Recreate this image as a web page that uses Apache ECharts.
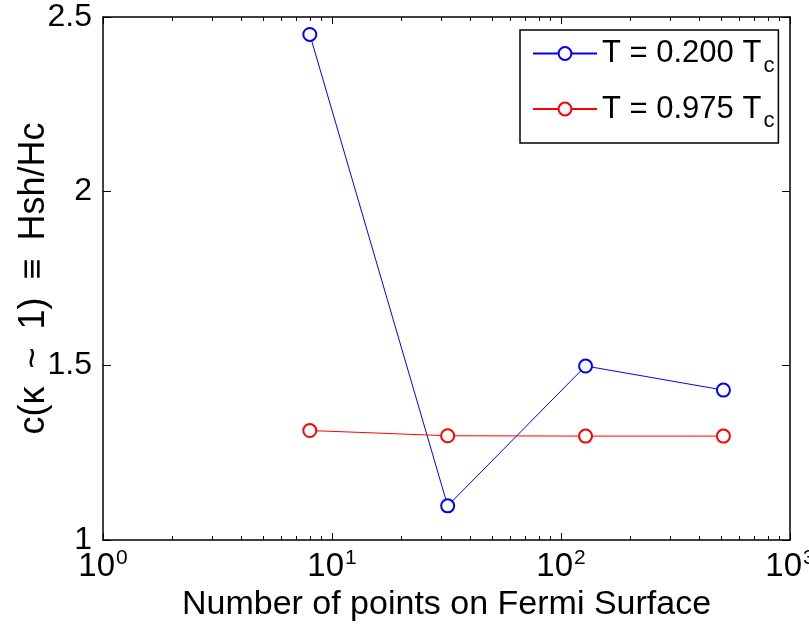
<!DOCTYPE html>
<html style="height: 100%">
	<head>
		<meta charset="utf-8">
	</head>
	<body style="height: 100%; margin: 0; background: #fff">
		<div id="container" style="width: 809px; height: 626px"></div>
		<script type="text/javascript" src="https://cdn.jsdelivr.net/npm/echarts@6/dist/echarts.min.js"></script>
		<script type="text/javascript">
			var dom = document.getElementById("container");
			var myChart = echarts.init(dom);

			// points on the Fermi surface
			const nPoints = [8, 32, 128, 512];
			const seriesNames = ['T = 0.200 T', 'T = 0.975 T'];
			const lowT = [2.45, 1.098, 1.499, 1.43];
			const highT = [1.314, 1.299, 1.298, 1.298];
			const seriesColors = ['#0000ff', '#ff0000'];

			// log minor ticks 2..9 in each decade
			const minorTicks = [];
			[1, 10, 100].forEach(function (d) {
				for (let k = 2; k <= 9; k++) minorTicks.push(d * k);
			});

			const fontFam = 'Liberation Sans, Arial, sans-serif';

			function xAx(pos, ticks, len, showLabel, showLine) {
				var ax = {
					type: 'log',
					logBase: 10,
					min: 1,
					max: 1000,
					position: pos,
					axisLine: { show: showLine, onZero: false, lineStyle: { color: '#000', width: 1.5 } },
					axisTick: { show: true, inside: true, length: len, lineStyle: { color: '#000', width: 1 } },
					axisLabel: {
						show: showLabel,
						margin: 8,
						color: '#000',
						fontSize: 33,
						fontFamily: fontFam,
						formatter: function (v) {
							return '10{sup|' + Math.round(Math.log10(v)) + '}';
						},
						rich: {
							sup: { fontSize: 21, fontFamily: fontFam, color: '#000', verticalAlign: 'top', padding: [0, 0, 16, 1] }
						}
					},
					splitLine: { show: false },
					name: showLabel ? 'Number of points on Fermi Surface' : '',
					nameLocation: 'middle',
					nameGap: 42,
					nameTextStyle: { color: '#000', fontSize: 34, fontFamily: fontFam }
				};
				if (ticks) ax.axisTick.customValues = ticks;
				return ax;
			}

			function yAx(pos, showLabel) {
				return {
					type: 'value',
					min: 1,
					max: 2.5,
					interval: 0.5,
					position: pos,
					axisLine: { show: true, onZero: false, lineStyle: { color: '#000', width: 1.5 } },
					axisTick: { show: true, inside: true, length: 8, lineStyle: { color: '#000', width: 1 } },
					axisLabel: {
						show: showLabel,
						margin: 11,
						color: '#000',
						fontSize: 32,
						fontFamily: fontFam
					},
					splitLine: { show: false },
					name: showLabel ? 'c(\u03ba\u2002~\u20021)\u2002\u2261\u2002Hsh/Hc' : '',
					nameLocation: 'middle',
					nameRotate: 90,
					nameGap: 51,
					nameMoveOverlap: false,
					nameTextStyle: { color: '#000', fontSize: 36, fontFamily: fontFam }
				};
			}

			var option = {
				backgroundColor: '#fff',
				animation: false,
				grid: { left: 103, right: 19, top: 17, bottom: 86, outerBoundsMode: 'none', containLabel: false },
				xAxis: [
					xAx('bottom', null, 7, true, true),
					xAx('bottom', minorTicks, 4, false, false),
					xAx('top', null, 7, false, true),
					xAx('top', minorTicks, 4, false, false)
				],
				yAxis: [yAx('left', true), yAx('right', false)],
				legend: {
					orient: 'vertical',
					left: 520,
					top: 30,
					padding: [8, 4, 11, 12],
					borderColor: '#000',
					borderWidth: 1.5,
					borderRadius: 0,
					itemWidth: 64,
					itemHeight: 16,
					itemGap: 17,
					textStyle: {
						color: '#000',
						fontSize: 31,
						fontFamily: fontFam,
						rich: {
							sub: { fontSize: 22, fontFamily: fontFam, color: '#000', verticalAlign: 'bottom', padding: [24, 0, 0, 2] }
						}
					},
					formatter: function (name) {
						return name + '{sub|c}';
					},
					data: seriesNames
				},
				series: [lowT, highT].map(function (vals, i) {
					return {
						name: seriesNames[i],
						type: 'line',
						data: nPoints.map(function (x, j) { return [x, vals[j]]; }),
						symbol: 'emptyCircle',
						symbolSize: 13,
						color: seriesColors[i],
						lineStyle: { color: seriesColors[i], width: 1 },
						itemStyle: { color: seriesColors[i], borderWidth: 1.2 }
					};
				})
			};
			myChart.setOption(option);
		</script>
	</body>
</html>
